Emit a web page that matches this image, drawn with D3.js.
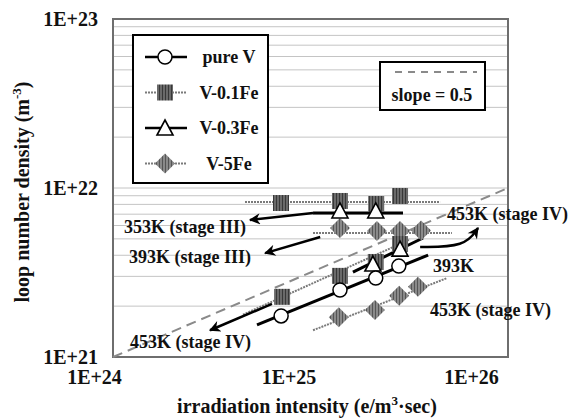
<!DOCTYPE html>
<html>
<head>
<meta charset="utf-8">
<script src="https://cdn.jsdelivr.net/npm/d3@7"></script>
<style>
  body { margin: 0; background: #fff; }
  text { font-family: "Liberation Serif", "Times New Roman", serif; font-weight: bold; fill: #111; }
</style>
</head>
<body>
<div id="chart"></div>
<script>
// tick values
var xTicks = [1e24, 1e25, 1e26];
var yTicks = [1e21, 1e22, 1e23];

// markers [irradiation intensity, loop density]
var v01_353 = [[7.09e24, 8.15e21], [1.41e25, 8.38e21], [2.15e25, 8.04e21], [2.84e25, 8.97e21]];
var v03_353 = [[1.41e25, 7.31e21], [2.14e25, 7.31e21]];
var v5_393 = [[1.41e25, 5.8e21], [2.17e25, 5.57e21], [2.84e25, 5.57e21], [3.63e25, 5.6e21]];
var v01_453 = [[7.18e24, 2.27e21], [1.41e25, 3.02e21], [2.14e25, 3.65e21], [2.84e25, 4.66e21]];
var v03_453 = [[2.07e25, 3.55e21], [2.84e25, 4.35e21]];
var pureV_393 = [[7.1e24, 1.75e21], [1.41e25, 2.49e21], [2.14e25, 2.93e21], [2.8e25, 3.45e21]];
var v5_453 = [[1.39e25, 1.72e21], [2.12e25, 1.9e21], [2.81e25, 2.3e21], [3.5e25, 2.6e21]];

// fitted lines (end points)
var slopeRef = [[1e24, 1e21], [1e26, 1e22]];
var fitV01_353 = [[4.66e24, 8.26e21], [4.53e25, 8.26e21]];
var fitV03_353 = [[1.03e25, 7.11e21], [2.94e25, 7.11e21]];
var fitV5_393 = [[1.03e25, 5.42e21], [5.2e25, 5.42e21]];
var fitV01_453 = [[4.55e24, 1.78e21], [3.19e25, 4.96e21]];
var fitV03_453 = [[1.64e25, 3.18e21], [3.71e25, 5.06e21]];
var fitPureV_393 = [[5.36e24, 1.55e21], [3.94e25, 4.01e21]];
var fitV5_453 = [[1.03e25, 1.44e21], [4.91e25, 2.93e21]];

// arrows (from, to)
var arrow353 = [[1.03e25, 7.11e21], [4.94e24, 6.47e21]];
var arrow393 = [[1.12e25, 5.13e21], [5.89e24, 4.12e21]];
var arrow453low = [[6.38e24, 2.06e21], [3.1e24, 1.44e21]];
var arrow453high = [[3.59e25, 4.48e21], [6.06e25, 4.48e21], [7.05e25, 5.8e21]];

var legendNames = ["pure V", "V-0.1Fe", "V-0.3Fe", "V-5Fe"];

var W = 568, H = 420;
var margin = { top: 19, right: 60, bottom: 63, left: 113 };

var svg = d3.select("#chart").append("svg")
    .attr("width", W).attr("height", H);

var defs = svg.append("defs");
function hatch(id, base, stripe) {
    var p = defs.append("pattern").attr("id", id)
        .attr("patternUnits", "userSpaceOnUse").attr("width", 3).attr("height", 4);
    p.append("rect").attr("width", 3).attr("height", 4).attr("fill", base);
    p.append("rect").attr("width", 1).attr("height", 4).attr("fill", stripe);
}
hatch("sq", "#6a6a6a", "#383838");
hatch("dm", "#8a8a8a", "#555");
defs.append("marker").attr("id", "arr")
    .attr("viewBox", "0 0 10 10").attr("refX", 9).attr("refY", 5)
    .attr("markerWidth", 5).attr("markerHeight", 4.5)
    .attr("orient", "auto").attr("markerUnits", "strokeWidth")
    .append("path").attr("d", "M0,0L10,5L0,10L3,5z").attr("fill", "#000");

var x = d3.scaleLog().domain([1e24, 1e26]).range([margin.left, W - margin.right]);
var y = d3.scaleLog().domain([1e21, 1e23]).range([H - margin.bottom, margin.top]);

// minor gridlines
svg.append("g").selectAll("line")
    .data(y.ticks())
    .join("line")
    .attr("x1", x.range()[0]).attr("x2", x.range()[1])
    .attr("y1", function (d) { return y(d); }).attr("y2", function (d) { return y(d); })
    .attr("stroke", "#c4c4c4").attr("stroke-width", 1);

// plot border
svg.append("rect")
    .attr("x", x.range()[0]).attr("y", y.range()[1])
    .attr("width", x.range()[1] - x.range()[0])
    .attr("height", y.range()[0] - y.range()[1])
    .attr("fill", "none").attr("stroke", "#6e6e6e").attr("stroke-width", 2);

// axes
function fmt(d) { return "1E+" + Math.round(Math.log10(d)); }
var xShift = [-19, -22, -37];
var xAxis = svg.append("g")
    .attr("transform", "translate(0," + (H - margin.bottom) + ")")
    .call(d3.axisBottom(x).tickValues(xTicks).tickFormat(fmt).tickSize(0).tickPadding(13));
xAxis.select(".domain").remove();
xAxis.selectAll("text").attr("dx", function (d, i) { return xShift[i]; }).style("font-size", "20px")
    .style("font-family", "Liberation Serif").style("font-weight", "bold").attr("fill", "#111");

var yAxis = svg.append("g")
    .attr("transform", "translate(" + margin.left + ",0)")
    .call(d3.axisLeft(y).tickValues(yTicks).tickFormat(fmt).tickSize(0).tickPadding(15));
yAxis.select(".domain").remove();
yAxis.selectAll("text").style("font-size", "20px")
    .style("font-family", "Liberation Serif").style("font-weight", "bold").attr("fill", "#111");

// axis titles
var xt = svg.append("text").attr("x", 307).attr("y", 413)
    .attr("text-anchor", "middle").style("font-size", "20px");
xt.append("tspan").text("irradiation intensity (e/m");
xt.append("tspan").attr("dy", -8).style("font-size", "13px").text("3");
xt.append("tspan").attr("dy", 8).text("·sec)");

var yt = svg.append("text")
    .attr("transform", "translate(29,192) rotate(-90)")
    .attr("text-anchor", "middle").style("font-size", "20px");
yt.append("tspan").text("loop number density (m");
yt.append("tspan").attr("dy", -8).style("font-size", "13px").text("-3");
yt.append("tspan").attr("dy", 8).text(")");

var line = d3.line().x(function (d) { return x(d[0]); }).y(function (d) { return y(d[1]); });

// slope = 0.5 reference
svg.append("path").attr("d", line(slopeRef))
    .attr("fill", "none").attr("stroke", "#8a8a8a").attr("stroke-width", 2)
    .attr("stroke-dasharray", "10,6");

// gray dotted series lines
[fitV01_353, fitV5_393, fitV01_453, fitV5_453].forEach(function (f) {
    svg.append("path").attr("d", line(f))
        .attr("fill", "none").attr("stroke", "#7a7a7a").attr("stroke-width", 2)
        .attr("stroke-dasharray", "2,1");
});
// black fit lines
[fitV03_353, fitV03_453, fitPureV_393].forEach(function (f) {
    svg.append("path").attr("d", line(f))
        .attr("fill", "none").attr("stroke", "#000").attr("stroke-width", 3);
});

// arrows
[arrow353, arrow393, arrow453low].forEach(function (a) {
    svg.append("path").attr("d", line(a))
        .attr("fill", "none").attr("stroke", "#000").attr("stroke-width", 2.5)
        .attr("marker-end", "url(#arr)");
});
svg.append("path")
    .attr("d", d3.line().curve(d3.curveBasis)
        .x(function (d) { return x(d[0]); }).y(function (d) { return y(d[1]); })(arrow453high))
    .attr("fill", "none").attr("stroke", "#000").attr("stroke-width", 2.5)
    .attr("marker-end", "url(#arr)");

// marker drawers
function diamond(g, cx, cy) {
    g.append("path").attr("d", "M" + cx + "," + (cy - 10) + "L" + (cx + 10) + "," + cy +
        "L" + cx + "," + (cy + 10) + "L" + (cx - 10) + "," + cy + "Z")
        .attr("fill", "url(#dm)");
}
function square(g, cx, cy) {
    g.append("rect").attr("x", cx - 8).attr("y", cy - 8).attr("width", 16).attr("height", 16)
        .attr("fill", "url(#sq)");
}
function triangle(g, cx, cy) {
    g.append("path").attr("d", "M" + cx + "," + (cy - 8) + "L" + (cx + 8) + "," + (cy + 7) +
        "L" + (cx - 8) + "," + (cy + 7) + "Z")
        .attr("fill", "#fff").attr("stroke", "#000").attr("stroke-width", 1.6);
}
function circle(g, cx, cy) {
    g.append("circle").attr("cx", cx).attr("cy", cy).attr("r", 7)
        .attr("fill", "#fff").attr("stroke", "#000").attr("stroke-width", 1.5);
}

var marks = svg.append("g");
v5_393.concat(v5_453).forEach(function (d) { diamond(marks, x(d[0]), y(d[1])); });
v01_353.concat(v01_453).forEach(function (d) { square(marks, x(d[0]), y(d[1])); });
v03_353.concat(v03_453).forEach(function (d) { triangle(marks, x(d[0]), y(d[1])); });
pureV_393.forEach(function (d) { circle(marks, x(d[0]), y(d[1])); });

// annotation labels
var notes = [
    { t: "353K (stage III)", x: 124, y: 233 },
    { t: "393K (stage III)", x: 129, y: 263 },
    { t: "453K (stage IV)", x: 447, y: 220 },
    { t: "393K", x: 433, y: 272 },
    { t: "453K (stage IV)", x: 430, y: 316 },
    { t: "453K (stage IV)", x: 130, y: 348 }
];
svg.append("g").selectAll("text").data(notes).join("text")
    .attr("x", function (d) { return d.x; }).attr("y", function (d) { return d.y; })
    .style("font-size", "18px").text(function (d) { return d.t; });

// legend
var lg = svg.append("g");
lg.append("rect").attr("x", 133).attr("y", 35).attr("width", 135).attr("height", 148)
    .attr("fill", "#fff").attr("stroke", "#000").attr("stroke-width", 2);
legendNames.forEach(function (name, i) {
    var cy = 57 + i * 35.5;
    var ln = lg.append("line").attr("x1", 145).attr("x2", 187).attr("y1", cy).attr("y2", cy);
    if (i === 0 || i === 2) ln.attr("stroke", "#000").attr("stroke-width", 2.5);
    else ln.attr("stroke", "#7a7a7a").attr("stroke-width", 2).attr("stroke-dasharray", "2,1");
    if (i === 0) circle(lg, 165, cy);
    if (i === 1) square(lg, 165, cy);
    if (i === 2) triangle(lg, 165, cy);
    if (i === 3) diamond(lg, 165, cy);
    lg.append("text").attr("x", 229).attr("y", cy + 6).attr("text-anchor", "middle")
        .style("font-size", "18px").text(name);
});

// slope legend
var sl = svg.append("g");
sl.append("rect").attr("x", 380).attr("y", 62).attr("width", 105).attr("height", 48)
    .attr("fill", "#fff").attr("stroke", "#000").attr("stroke-width", 2);
sl.append("line").attr("x1", 395).attr("x2", 477).attr("y1", 72).attr("y2", 72)
    .attr("stroke", "#8a8a8a").attr("stroke-width", 2).attr("stroke-dasharray", "7,6");
sl.append("text").attr("x", 432).attr("y", 101).attr("text-anchor", "middle")
    .style("font-size", "18px").text("slope = 0.5");
</script>
</body>
</html>
